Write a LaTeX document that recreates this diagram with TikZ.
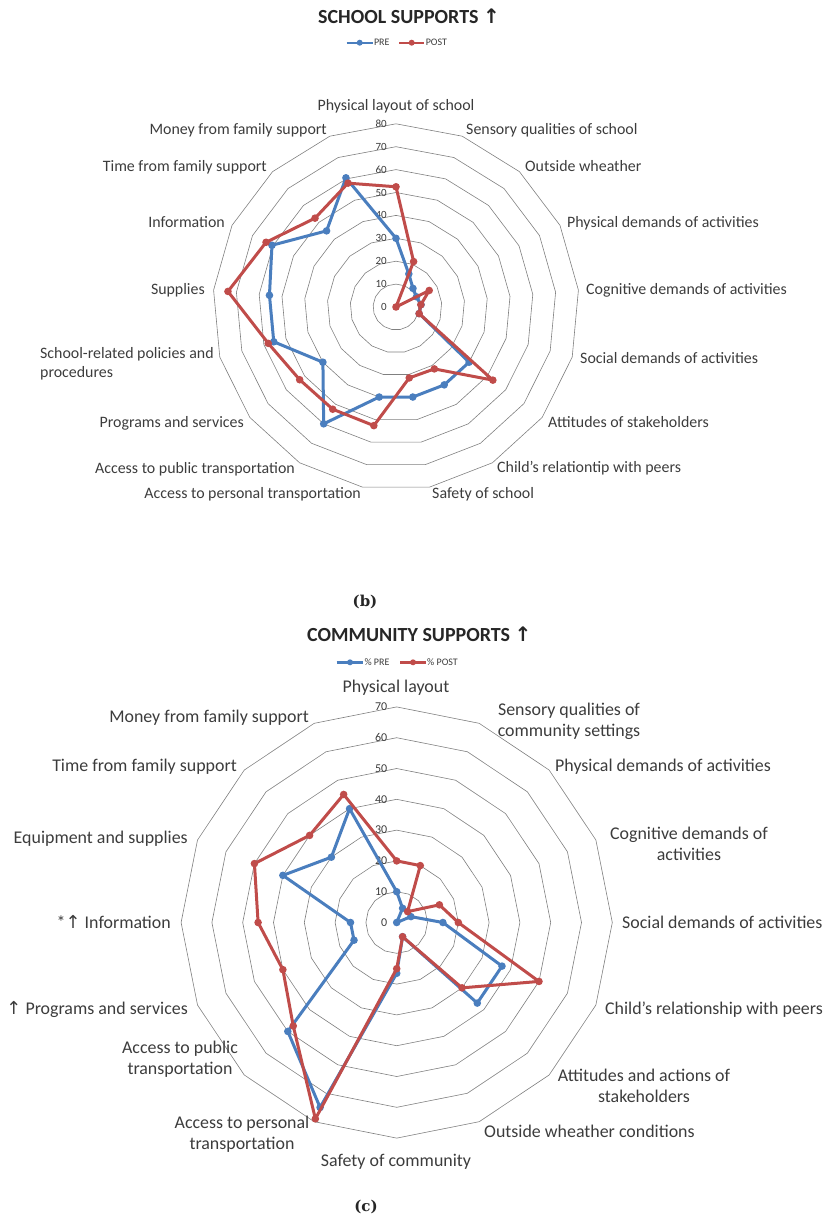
\documentclass[tikz,border=0pt]{standalone}
\usepackage{fontspec}
\usetikzlibrary{calc}
\setmainfont{Carlito}
\newfontfamily\arrowfont{DejaVu Sans}
\newfontfamily\capfont{DejaVu Serif}
\definecolor{preblue}{RGB}{74,126,190}
\definecolor{postred}{RGB}{192,76,74}
\definecolor{labtext}{RGB}{60,60,60}
\begin{document}
\begin{tikzpicture}[x=1pt,y=-1pt,
  ring/.style={draw=black!50, line width=0.6pt},
  preline/.style={draw=preblue, line width=3pt, line join=round},
  postline/.style={draw=postred, line width=3pt, line join=round},
  predot/.style={circle, fill=preblue, inner sep=0pt, minimum size=7.6pt},
  postdot/.style={circle, fill=postred, inner sep=0pt, minimum size=7.6pt},
  ticklab/.style={font=\fontsize{11}{12}\selectfont, text=labtext, anchor=east, inner sep=0pt},
  labA/.style={font=\fontsize{15.9}{19}\selectfont, text=labtext, inner sep=0pt, text height=8pt, text depth=3pt, yshift=-3pt},
  labB/.style={font=\fontsize{17.9}{21}\selectfont, text=labtext, inner sep=0pt, text height=9pt, text depth=3.5pt, yshift=-3.5pt},
  multi/.style={text height=, text depth=, yshift=-1pt},
  legtext/.style={font=\fontsize{10}{11}\selectfont, text=labtext, anchor=west, inner sep=0pt},
  title/.style={font=\bfseries\fontsize{20}{22}\selectfont, text=black!85, anchor=west, inner sep=0pt},
  panel/.style={font=\capfont\bfseries\fontsize{15}{17}\selectfont, text=black!85, inner sep=0pt}
]
\useasboundingbox (0,0) rectangle (829,1227);

% ---------------- School supports (17 axes) ----------------
\def\cxA{396}\def\cyA{307}\def\sA{2.29}
\foreach \v in {10,20,...,80}{
  \draw[ring] (\cxA,{\cyA-\v*\sA})
    \foreach \k in {1,...,16}{ -- ({\cxA+\v*\sA*sin(\k*360/17)},{\cyA-\v*\sA*cos(\k*360/17)}) } -- cycle;
}
\foreach \v in {0,10,...,80}
  \node[ticklab] (tA\v) at (387,{\cyA-\v*\sA}) {\v};

\foreach \val [count=\k from 0] in {30,15.5,11,10,11,10.5,40,40,40,40,60,40,55.5,55.5,60.5,45,60.5}
  \coordinate (apre\k) at ({\cxA+\val*\sA*sin(\k*360/17)},{\cyA-\val*\sA*cos(\k*360/17)});
\foreach \val [count=\k from 0] in {52.5,21.3,0,16.2,10.9,10.5,53,31.8,31.5,52.7,52.5,52.7,58,73.7,63.4,52.5,58}
  \coordinate (apost\k) at ({\cxA+\val*\sA*sin(\k*360/17)},{\cyA-\val*\sA*cos(\k*360/17)});

\draw[preline] (apre0) \foreach \k in {1,...,16}{ -- (apre\k) } -- cycle;
\foreach \k in {0,...,16} \node[predot] (mApre\k) at (apre\k) {};
\draw[postline] (apost0) \foreach \k in {1,...,16}{ -- (apost\k) } -- cycle;
\foreach \k in {0,...,16} \node[postdot] (mApost\k) at (apost\k) {};

\node[labA] (a0) at (396,105) {Physical layout of school};
\node[labA, anchor=west] (a1) at (466,129) {Sensory qualities of school};
\node[labA, anchor=west] (a2) at (525,166) {Outside wheather};
\node[labA, anchor=west] (a3) at (567,222) {Physical demands of activities};
\node[labA, anchor=west] (a4) at (586,289) {Cognitive demands of activities};
\node[labA, anchor=west] (a5) at (580,358) {Social demands of activities};
\node[labA, anchor=west] (a6) at (548,422) {Attitudes of stakeholders};
\node[labA, anchor=west] (a7) at (497,467) {Child's relationtip with peers};
\node[labA, anchor=west] (a8) at (432,493) {Safety of school};
\node[labA, anchor=east] (a9) at (361,493) {Access to personal transportation};
\node[labA, anchor=east] (a10) at (295,468) {Access to public transportation};
\node[labA, anchor=east] (a11) at (244,422) {Programs and services};
\node[labA, multi, anchor=west, align=left] (a12) at (40,359.5) {School-related policies and\\procedures};
\node[labA, anchor=east] (a13) at (205,289) {Supplies};
\node[labA, anchor=east] (a14) at (225,222) {Information};
\node[labA, anchor=east] (a15) at (267,166) {Time from family support};
\node[labA, anchor=east] (a16) at (327,129) {Money from family support};

\node[title] (titleA) at (318,16.5) {SCHOOL SUPPORTS {\arrowfont\bfseries ↑}};
\coordinate (lgA1) at (346.7,42.7); \coordinate (lgA2) at (372.7,42.7);
\coordinate (lgA3) at (399,42.7);   \coordinate (lgA4) at (424.3,42.7);
\draw[preline, line width=2.4pt] (lgA1) -- (lgA2);
\node[predot, minimum size=6pt] (lgAm1) at ($(lgA1)!0.5!(lgA2)$) {};
\node[legtext] (lgAt1) at (373.8,42.7) {PRE};
\draw[postline, line width=2.4pt] (lgA3) -- (lgA4);
\node[postdot, minimum size=6pt] (lgAm2) at ($(lgA3)!0.5!(lgA4)$) {};
\node[legtext] (lgAt2) at (425.6,42.7) {POST};

\node[panel] (capb) at (365,602) {(b)};

% ---------------- Community supports (16 axes) ----------------
\def\cxB{396.7}\def\cyB{922.5}\def\sB{3.08}
\foreach \v in {10,20,...,70}{
  \draw[ring] (\cxB,{\cyB-\v*\sB})
    \foreach \k in {1,...,15}{ -- ({\cxB+\v*\sB*sin(\k*22.5)},{\cyB-\v*\sB*cos(\k*22.5)}) } -- cycle;
}
\foreach \v in {0,10,...,70}
  \node[ticklab, font=\fontsize{12}{13}\selectfont] (tB\v) at (387.5,{\cyB-\v*\sB}) {\v};

\foreach \val [count=\k from 0] in {10,5,0,5,15,37,37,5,16.5,65,50,15,15,40,30,40}
  \coordinate (bpre\k) at ({\cxB+\val*\sB*sin(\k*22.5)},{\cyB-\val*\sB*cos(\k*22.5)});
\foreach \val [count=\k from 0] in {20,20,5,15,20,50,30,5,15,69,47.5,40,45,50,40,45}
  \coordinate (bpost\k) at ({\cxB+\val*\sB*sin(\k*22.5)},{\cyB-\val*\sB*cos(\k*22.5)});

\draw[preline] (bpre0) \foreach \k in {1,...,15}{ -- (bpre\k) } -- cycle;
\foreach \k in {0,...,15} \node[predot] (mBpre\k) at (bpre\k) {};
\draw[postline] (bpost0) \foreach \k in {1,...,15}{ -- (bpost\k) } -- cycle;
\foreach \k in {0,...,15} \node[postdot] (mBpost\k) at (bpost\k) {};

\node[labB] (b0) at (396,686) {Physical layout};
\node[labB, multi, align=center] (b1) at (569,716.5) {Sensory qualities of\\community settings};
\node[labB, anchor=west] (b2) at (555,765) {Physical demands of activities};
\node[labB, multi, align=center] (b3) at (689,839) {Cognitive demands of\\activities};
\node[labB, anchor=west] (b4) at (622,922) {Social demands of activities};
\node[labB, anchor=west] (b5) at (605,1008) {Child's relationship with peers};
\node[labB, multi, align=center] (b6) at (644,1081) {Attitudes and actions of\\stakeholders};
\node[labB, anchor=west] (b7) at (484,1131) {Outside wheather conditions};
\node[labB] (b8) at (396,1160) {Safety of community};
\node[labB, multi, align=center] (b9) at (242,1129.5) {Access to personal\\transportation};
\node[labB, multi, align=center] (b10) at (180,1054.5) {Access to public\\transportation};
\node[labB, anchor=east] (b11) at (188,1008) {{\arrowfont ↑} Programs and services};
\node[labB, anchor=east] (b12) at (171,922) {*{\arrowfont ↑} Information};
\node[labB, anchor=east] (b13) at (188,837) {Equipment and supplies};
\node[labB, anchor=east] (b14) at (237,765) {Time from family support};
\node[labB, anchor=east] (b15) at (309,716) {Money from family support};

\node[title] (titleB) at (307,634) {COMMUNITY SUPPORTS {\arrowfont\bfseries ↑}};
\coordinate (lgB1) at (336.7,662.3); \coordinate (lgB2) at (363.3,662.3);
\coordinate (lgB3) at (400,662.3);   \coordinate (lgB4) at (426,662.3);
\draw[preline, line width=2.4pt] (lgB1) -- (lgB2);
\node[predot, minimum size=6pt] (lgBm1) at ($(lgB1)!0.5!(lgB2)$) {};
\node[legtext] (lgBt1) at (364.3,662.3) {\% PRE};
\draw[postline, line width=2.4pt] (lgB3) -- (lgB4);
\node[postdot, minimum size=6pt] (lgBm2) at ($(lgB3)!0.5!(lgB4)$) {};
\node[legtext] (lgBt2) at (427,662.3) {\% POST};

\node[panel] (capc) at (366,1207) {(c)};
\end{tikzpicture}
\end{document}
